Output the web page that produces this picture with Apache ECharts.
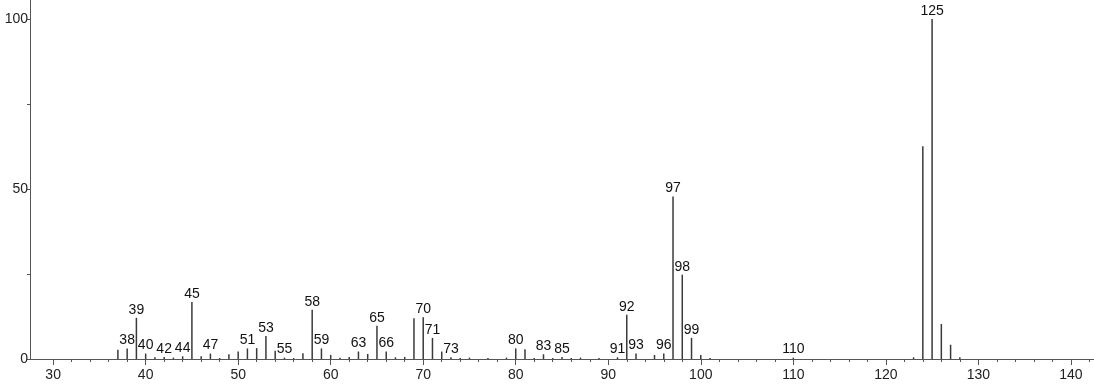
<!DOCTYPE html>
<html>
<head>
<meta charset="utf-8">
<script src="https://cdn.jsdelivr.net/npm/echarts@6/dist/echarts.min.js"></script>
<style>
html,body{margin:0;padding:0;background:#fff;}
#chart{width:1094px;height:384px;}
</style>
</head>
<body>
<div id="chart"></div>
<script>
const mz = [37,38,39,40,41,42,43,44,45,46,47,48,49,50,51,52,53,54,55,56,57,58,59,60,61,62,63,64,65,66,67,68,69,70,71,72,73,74,75,77,79,80,81,82,83,84,85,86,87,89,91,92,93,95,96,97,98,99,100,101,110,123,124,125,126,127,128];
const intensity = [2.7,3.1,12.1,1.6,0.5,0.6,0.4,0.8,16.8,0.8,1.6,0.3,1.4,2.2,3.1,3.2,6.8,2.4,0.4,0.3,1.7,14.5,3.1,1.2,0.4,0.6,2.2,1.5,9.8,2.2,0.5,0.6,12.0,12.3,6.2,2.2,0.5,0.3,0.4,0.3,0.4,3.1,2.9,0.3,1.4,0.3,0.6,0.3,0.4,0.3,0.5,13.0,1.6,1.2,1.6,47.8,24.8,6.2,1.2,0.3,0.4,0.5,62.6,100,10.3,4.2,0.5];
const labeledMz = [38,39,40,42,44,45,47,51,53,55,58,59,63,65,66,70,71,73,80,83,85,91,92,93,96,97,98,99,110,125];
const xTickLabels = [30,40,50,60,70,80,90,100,110,120,130,140];
const xMinorTicks = [32,34,36,38,42,44,46,48,52,54,56,58,62,64,66,68,72,74,76,78,82,84,86,88,92,94,96,98,102,104,106,108,112,114,116,118,122,124,126,128,132,134,136,138,142];
const yTickLabels = [0,50,100];
const yTicks = [0,25,50,75,100];

const chart = echarts.init(document.getElementById('chart'), null, {renderer:'canvas'});
const fontFamily = '"Liberation Sans", Arial, sans-serif';
const axisColor = '#555';
const data = mz.map((m,i)=>({
  value:[m, intensity[i]],
  label:{show: labeledMz.includes(m)}
}));
chart.setOption({
  animation:false,
  grid:[{left:30,right:0,top:0,bottom:25,containLabel:false}],
  xAxis:[{
    type:'value', min:27.5, max:142.5,
    axisLine:{show:true,lineStyle:{color:axisColor,width:1}},
    axisTick:{show:true,customValues:xTickLabels,length:6,lineStyle:{color:axisColor}},
    axisLabel:{show:true,customValues:xTickLabels,color:'#222',fontSize:14,fontFamily:fontFamily,margin:9},
    splitLine:{show:false}
  },{
    type:'value', min:27.5, max:142.5, position:'bottom',
    axisLine:{show:false},
    axisTick:{show:true,customValues:xMinorTicks,length:3,lineStyle:{color:axisColor}},
    axisLabel:{show:false},
    splitLine:{show:false}
  }],
  yAxis:{
    type:'value', min:0, max:105.6,
    axisLine:{show:true,lineStyle:{color:axisColor,width:1}},
    axisTick:{show:true,customValues:yTicks,length:3,lineStyle:{color:axisColor}},
    axisLabel:{show:true,customValues:yTickLabels,color:'#222',fontSize:14,fontFamily:fontFamily,margin:2},
    splitLine:{show:false}
  },
  series:[{
    type:'bar',
    xAxisIndex:0,
    data:data,
    barWidth:1.5,
    itemStyle:{color:'#3a3a3a'},
    label:{position:'top',distance:1,fontSize:14,color:'#111',fontFamily:fontFamily,
      formatter:p=>String(p.value[0])}
  }]
});
</script>
</body>
</html>
